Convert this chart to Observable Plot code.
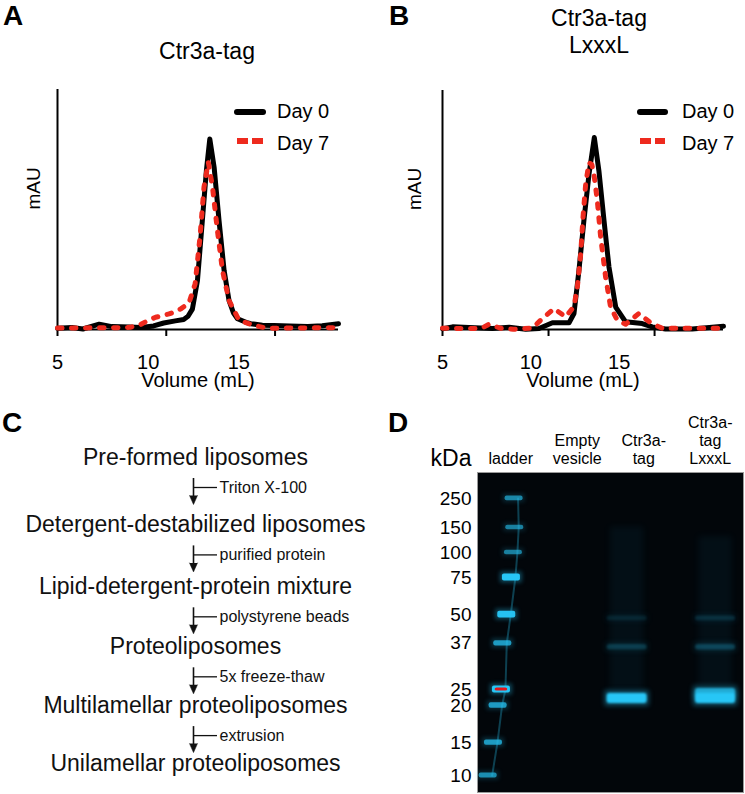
<!DOCTYPE html>
<html>
<head>
<meta charset="utf-8">
<script src="https://cdn.jsdelivr.net/npm/d3@7"></script>
<script src="https://cdn.jsdelivr.net/npm/@observablehq/plot@0.6"></script>
<style>
  html, body { margin: 0; padding: 0; background: #fff; }
  #fig { position: relative; width: 745px; height: 794px; overflow: hidden; background: #fff;
         font-family: 'Liberation Sans', Arial, Helvetica, sans-serif; color: #000; }
  .panel { position: absolute; }
  #overlay { position: absolute; left: 0; top: 0; pointer-events: none; }
</style>
</head>
<body>
<div id="fig">
  <div id="pA" class="panel" style="left:0px;top:0px"></div>
  <div id="pB" class="panel" style="left:372px;top:0px"></div>
  <div id="pC" class="panel" style="left:0px;top:392px"></div>
  <div id="pD" class="panel" style="left:380px;top:392px"></div>
</div>
<script>
// ---------------- DATA ----------------
// Panel A: Ctr3a-tag size-exclusion traces (Volume mL, mAU relative)
const volA_day0 = [5, 5.8, 6.4, 7.3, 8.0, 9.0, 9.6, 10.3, 10.86, 11.5, 11.96, 12.2, 12.44, 12.72, 12.99, 13.21, 13.4, 13.64, 13.91, 14.19, 14.46, 14.7, 14.93, 15.4, 15.66, 16.3, 16.95, 17.8, 18.8, 19.6, 20.5];
const mauA_day0 = [0.5, 0.8, 0.2, 2.2, 1.2, 1.0, 0.8, 1.5, 2.7, 3.6, 4.2, 5.5, 8.5, 20.4, 45.4, 66, 79.4, 67.6, 45.4, 24.6, 12.1, 7, 4.5, 3.0, 2.4, 1.8, 1.7, 1.5, 1.3, 1.6, 2.4];
const volA_day7 = [5, 6, 7, 8, 9, 9.59, 10.0, 10.41, 10.8, 11.15, 11.5, 11.8, 12.25, 12.59, 12.86, 13.08, 13.32, 13.55, 13.82, 14.1, 14.46, 15.02, 15.85, 16.58, 18, 19.5, 20.5];
const mauA_day7 = [0.6, 0.6, 0.7, 0.7, 0.9, 2.1, 3.8, 5.1, 5.8, 6.5, 7.4, 8.6, 11, 19, 38.5, 59.3, 69.7, 59.3, 41.3, 24.6, 12.1, 3.8, 1.7, 0.5, 0.6, 0.7, 0.8];
// Panel B: Ctr3a-tag LxxxL
const volB_day0 = [5, 5.57, 6.5, 7.83, 8.77, 9.71, 10.46, 11.22, 12.16, 12.44, 12.72, 13.0, 13.29, 13.59, 13.85, 14.14, 14.42, 14.8, 15.36, 16.3, 16.87, 17.62, 19.13, 20.9];
const mauB_day0 = [0.3, 1.1, 0.8, 0.4, 0.9, 0.1, 0.4, 2.8, 2.8, 6.7, 24.7, 45.5, 65, 80.3, 66.4, 45.5, 26.1, 9.4, 3.2, 2.5, 1.1, 0.2, 0.2, 1.4];
const volB_day7 = [5, 6.5, 7.2, 7.63, 8.3, 9.0, 10.09, 10.65, 11.31, 11.97, 12.44, 12.63, 12.82, 12.95, 13.1, 13.29, 13.45, 13.57, 13.76, 13.95, 14.23, 14.51, 14.89, 15.36, 16.11, 16.77, 17.43, 20.9];
const mauB_day7 = [0.5, 0.4, 0.5, 2.2, 0.5, 0.1, 0.6, 4.6, 8.7, 5.3, 9.6, 17.8, 31.7, 46.9, 60.8, 69.8, 69, 65, 53.9, 38.6, 21.9, 9.4, 3.9, 2.2, 6.7, 2.8, 0.5, 0.5];
const xTickLabels = [5, 10, 15];
const xTickMarks = [5, 11, 17];
const seriesNames = ["Day 0", "Day 7"];
const titleA = ["Ctr3a-tag"];
const titleB = ["Ctr3a-tag", "LxxxL"];

// Panel C: reconstitution workflow
const steps = ["Pre-formed liposomes", "Detergent-destabilized liposomes", "Lipid-detergent-protein mixture",
               "Proteoliposomes", "Multilamellar proteoliposomes", "Unilamellar proteoliposomes"];
const reagents = ["Triton X-100", "purified protein", "polystyrene beads", "5x freeze-thaw", "extrusion"];

// Panel D: gel
const laneNames = ["ladder", "Empty\nvesicle", "Ctr3a-\ntag", "Ctr3a-\ntag\nLxxxL"];
const ladderKDa = [250, 150, 100, 75, 50, 37, 25, 20, 15, 10];
const ladderMigration = [0.081, 0.172, 0.25, 0.328, 0.444, 0.534, 0.678, 0.728, 0.844, 0.947];
const ladderIntensity = [0.45, 0.4, 0.4, 1.0, 0.95, 0.6, 1.0, 0.6, 0.6, 0.5];
const ladderDrift = [0.05, 0.06, 0.04, 0.01, -0.06, -0.12, -0.14, -0.19, -0.26, -0.34];
const ladderSaturated = [false, false, false, false, false, false, true, false, false, false];
const sampleLane = [2, 2, 2, 3, 3, 3, 3];
const sampleMigration = [0.706, 0.546, 0.456, 0.688, 0.706, 0.546, 0.456];
const sampleIntensity = [1.0, 0.2, 0.1, 0.75, 1.0, 0.24, 0.14];
const laneDrift = [0, 0, -0.25, 0.08];
const smearLane = [2, 3];
const smearTop = [0.17, 0.2];
const smearBottom = [0.68, 0.67];

// ---------------- STYLE ----------------
const FONT = "'Liberation Sans', Arial, Helvetica, sans-serif";
const RED = "#ee2a1e";
const CYAN = "#27c6f6";
const baseStyle = {fontFamily: FONT, fontSize: "20px", color: "#000", background: "transparent", overflow: "visible"};

// ---------------- PANELS A & B ----------------
function chrom(el, o) {
  const d0 = o.v0.map((v, i) => ({v, a: o.a0[i]}));
  const d7 = o.v7.map((v, i) => ({v, a: o.a7[i]}));
  const p = Plot.plot({
    width: o.width, height: 392,
    marginLeft: o.ml, marginRight: o.mr, marginTop: o.mt, marginBottom: o.mb,
    x: {domain: [5, o.xMax]},
    y: {domain: [0, 100], axis: null},
    style: baseStyle,
    marks: [
      Plot.axisX({ticks: xTickMarks, tickSize: 7, tickFormat: () => "", strokeWidth: 2, label: null}),
      Plot.axisX({ticks: xTickLabels, tickSize: 0, tickPadding: 25, fontSize: 20, label: null}),
      Plot.ruleX([5], {y1: 0, y2: 100, strokeWidth: 2}),
      Plot.ruleY([0], {strokeWidth: 2}),
      Plot.line(d0, {x: "v", y: "a", stroke: "#000", strokeWidth: 5, strokeLinejoin: "round"}),
      Plot.line(d7, {x: "v", y: "a", stroke: RED, strokeWidth: 5, strokeDasharray: "4.5,9.5"}),
      Plot.text(["mAU"], {frameAnchor: "left", rotate: -90, dx: o.ml === 57 ? -24 : -28, fontSize: 19}),
      Plot.text(["Volume (mL)"], {frameAnchor: "bottom", lineAnchor: "bottom", dy: 57, fontSize: 20})
    ]
  });
  document.getElementById(el).appendChild(p);
}
chrom("pA", {width: 372, ml: 57, mr: 34, mt: 89, mb: 63, xMax: 20.5,
  v0: volA_day0, a0: mauA_day0, v7: volA_day7, a7: mauA_day7});
chrom("pB", {width: 373, ml: 70, mr: 22, mt: 90, mb: 63, xMax: 20.9,
  v0: volB_day0, a0: mauB_day0, v7: volB_day7, a7: mauB_day7});

// ---------------- PANEL C ----------------
{
  const idx = reagents.map((d, i) => i);
  const p = Plot.plot({
    width: 380, height: 402,
    marginLeft: 8, marginRight: 2, marginTop: 65, marginBottom: 31,
    x: {domain: [0, 1], axis: null},
    y: {type: "pow", exponent: 0.94, domain: [0, steps.length - 1], reverse: true, axis: null},
    style: baseStyle,
    marks: [
      Plot.text(steps, {x: 0.5, y: (d, i) => i, dx: 2, fontSize: 23, fill: "#111"}),
      Plot.ruleX(idx, {x: 0.5, y1: d => d, y2: d => d, insetTop: 21, insetBottom: -42, stroke: "#111", strokeWidth: 1.6}),
      Plot.ruleY(idx, {y: d => d, x1: 0.5, x2: 0.5, dy: 30, insetLeft: 0, insetRight: -24, stroke: "#111", strokeWidth: 1.3}),
      Plot.vector(idx, {x: 0.5, y: d => d, dy: 38, length: 9, r: 4, rotate: 180, shape: "spike", anchor: "start", fill: "#111", stroke: "#111", strokeWidth: 0.5}),
      Plot.text(reagents, {x: 0.5, y: (d, i) => i, dx: 26, dy: 30, textAnchor: "start", fontSize: 16, fill: "#111"})
    ]
  });
  document.getElementById("pC").appendChild(p);
}

// ---------------- PANEL D ----------------
{
  const GEL_H = 320, LANE_PX = 66.5;
  const ladder = ladderKDa.map((k, i) => ({k, m: ladderMigration[i], int: ladderIntensity[i], drift: ladderDrift[i], sat: ladderSaturated[i]}));
  const samples = sampleLane.map((l, i) => ({l, m: sampleMigration[i], int: sampleIntensity[i]}));
  const smears = smearLane.map((l, i) => ({l, t: smearTop[i], b: smearBottom[i]}));
  const LW = 18 / LANE_PX, SW = 40 / LANE_PX;
  const lth = d => (3 + 4 * d.int) / 2 / GEL_H;
  const sth = d => (4 + 6 * d.int) / 2 / GEL_H;
  const p = Plot.plot({
    width: 365, height: 402,
    marginLeft: 97, marginRight: 2, marginTop: 80, marginBottom: 2,
    x: {domain: [0, laneNames.length], axis: null},
    y: {domain: [0, 1], reverse: true},
    style: baseStyle,
    marks: [
      Plot.frame({fill: "#02060a", stroke: "#9a9a9a", strokeWidth: 1}),
      // smears
      Plot.rect(smears, {x1: d => d.l + 0.5 + laneDrift[d.l] - SW * 0.42, x2: d => d.l + 0.5 + laneDrift[d.l] + SW * 0.42,
        y1: "t", y2: "b", fill: CYAN, fillOpacity: 0.05, imageFilter: "blur(3px)"}),
      // ladder lane trace
      Plot.line(ladder, {x: d => 0.5 + d.drift + 0.06, y: "m", stroke: CYAN, strokeOpacity: 0.3, strokeWidth: 2, imageFilter: "blur(0.6px)"}),
      // halos
      Plot.rect(ladder, {x1: d => 0.5 + d.drift - LW / 2 - 0.03, x2: d => 0.5 + d.drift + LW / 2 + 0.03,
        y1: d => d.m - lth(d) - 0.006, y2: d => d.m + lth(d) + 0.006, fill: CYAN, fillOpacity: d => 0.35 * d.int, imageFilter: "blur(2px)"}),
      Plot.rect(samples, {x1: d => d.l + 0.5 + laneDrift[d.l] - SW / 2 - 0.03, x2: d => d.l + 0.5 + laneDrift[d.l] + SW / 2 + 0.03,
        y1: d => d.m - sth(d) - 0.008, y2: d => d.m + sth(d) + 0.008, fill: CYAN, fillOpacity: d => 0.4 * d.int, imageFilter: "blur(2.5px)"}),
      // bands
      Plot.rect(ladder, {x1: d => 0.5 + d.drift - LW / 2, x2: d => 0.5 + d.drift + LW / 2,
        y1: d => d.m - lth(d), y2: d => d.m + lth(d), fill: CYAN, fillOpacity: d => 0.3 + 0.7 * d.int, rx: 2, imageFilter: "blur(0.7px)"}),
      Plot.rect(ladder.filter(d => d.sat), {x1: d => 0.5 + d.drift - LW / 2 + 0.04, x2: d => 0.5 + d.drift + LW / 2 - 0.04,
        y1: d => d.m - lth(d) + 0.006, y2: d => d.m + lth(d) - 0.006, fill: "#e3161b", rx: 2, imageFilter: "blur(0.5px)"}),
      Plot.rect(samples, {x1: d => d.l + 0.5 + laneDrift[d.l] - SW / 2, x2: d => d.l + 0.5 + laneDrift[d.l] + SW / 2,
        y1: d => d.m - sth(d), y2: d => d.m + sth(d), fill: CYAN, fillOpacity: d => d.int, rx: 3, imageFilter: "blur(0.8px)"}),
      // axes & labels
      Plot.axisY({ticks: ladderMigration, tickFormat: d => String(ladderKDa[ladderMigration.indexOf(d)]),
        tickSize: 0, tickPadding: 6, fontSize: 19, label: null}),
      Plot.text(["kDa"], {frameAnchor: "top-left", textAnchor: "end", lineAnchor: "bottom", dx: -6, dy: -7, fontSize: 23}),
      Plot.text(laneNames, {x: (d, i) => i + 0.5, frameAnchor: "top", lineAnchor: "bottom", dy: -9, fontSize: 16, lineHeight: 1.125})
    ]
  });
  document.getElementById("pD").appendChild(p);
}

// ---------------- OVERLAY: panel letters, titles, legends ----------------
{
  const svg = d3.select("#fig").append("svg").attr("id", "overlay")
    .attr("width", 745).attr("height", 794)
    .style("font-family", FONT);
  const letters = [["A", 3, 25], ["B", 389, 25], ["C", 2, 432], ["D", 388, 432]];
  svg.selectAll("text.letter").data(letters).join("text").attr("class", "letter")
    .attr("x", d => d[1]).attr("y", d => d[2]).attr("font-size", 28).attr("font-weight", "bold").text(d => d[0]);
  svg.append("text").attr("x", 207).attr("y", 59).attr("text-anchor", "middle").attr("font-size", 23).text(titleA[0]);
  titleB.forEach((t, i) => svg.append("text").attr("x", 599).attr("y", 26 + 27 * i)
    .attr("text-anchor", "middle").attr("font-size", 23).text(t));
  const legends = [{x0: 237, x1: 263, tx: 277}, {x0: 640, x1: 665, tx: 682}];
  legends.forEach(L => {
    svg.append("line").attr("x1", L.x0).attr("x2", L.x1).attr("y1", 112).attr("y2", 112)
      .attr("stroke", "#000").attr("stroke-width", 6).attr("stroke-linecap", "round");
    svg.append("line").attr("x1", L.x0).attr("x2", L.x1).attr("y1", 141).attr("y2", 141)
      .attr("stroke", RED).attr("stroke-width", 6).attr("stroke-dasharray", "11,4,11");
    seriesNames.forEach((s, i) => svg.append("text").attr("x", L.tx).attr("y", 118 + 32 * i)
      .attr("font-size", 20).text(s));
  });
}
</script>
</body>
</html>
